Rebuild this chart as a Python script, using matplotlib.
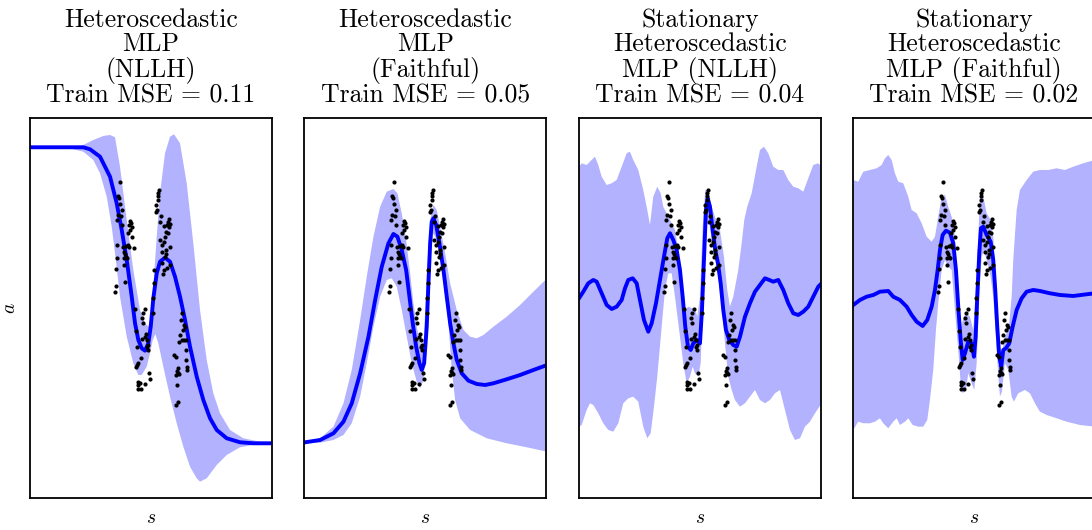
#!/usr/bin/env python3
"""
Predictive mean and uncertainty band of four MLP variants on the same
training data (s -> a), side by side.
"""

import matplotlib
matplotlib.use("Agg")
import matplotlib.pyplot as plt
import numpy as np


# Training data (shared by all panels)
TRAIN_S = [
    -0.31, -0.33, -0.32, -0.31, -0.29, -0.33, -0.30, -0.34, -0.29, -0.21, -0.20, -0.22,
    -0.19, -0.21, -0.19, -0.23, -0.25, -0.23, -0.22, -0.28, -0.27, -0.26, -0.25, -0.27,
    -0.24, -0.17, -0.34, -0.34, -0.27, -0.35, -0.26, -0.35, -0.36,
    -0.16, -0.06, -0.08, -0.09, -0.08, -0.15, -0.05, -0.06, -0.09, -0.04, -0.03, -0.04,
    -0.03, -0.14, -0.10, -0.14, -0.13, -0.15, -0.02, -0.01, -0.13, -0.11, -0.13, -0.13,
    -0.10, -0.06,
    0.08, 0.07, 0.07, 0.07, 0.05, 0.06, 0.05, 0.10, 0.09, 0.18, 0.17, 0.19, 0.16, 0.18,
    0.13, 0.15, 0.17, 0.14, 0.09, 0.13, 0.19, 0.11, 0.15, 0.11, 0.15, 0.14, 0.11, 0.19,
    0.13, 0.16, 0.12,
    0.02, 0.02, 0.03, 0.03,
    0.31, 0.30, 0.33, 0.34, 0.32, 0.29, 0.35, 0.31, 0.33, 0.28, 0.35, 0.23, 0.25, 0.35,
    0.27, 0.36, 0.36, 0.26, 0.27, 0.28, 0.25, 0.26, 0.27, 0.25,
]
TRAIN_A = [
    1.28, 1.14, 1.12, 1.06, 1.00, 0.95, 0.94, 0.90, 0.85, 0.89, 0.87, 0.85,
    0.83, 0.80, 0.73, 0.77, 0.64, 0.65, 0.63, 0.63, 0.58, 0.56, 0.53, 0.52,
    0.52, 0.62, 0.65, 0.52, 0.45, 0.41, 0.28, 0.24, 0.18,
    0.01, 0.01, -0.03, -0.08, -0.13, -0.21, -0.24, -0.27, -0.29, -0.30, -0.35, -0.37,
    -0.40, -0.37, -0.48, -0.55, -0.53, -0.57, -0.63, -0.69, -0.72, -0.73, -0.75, -0.79,
    -0.79, -0.74,
    1.20, 1.17, 1.14, 1.10, 1.05, 1.00, 0.98, 0.94, 0.88, 0.91, 0.88, 0.86, 0.85, 0.83,
    0.84, 0.78, 0.77, 0.73, 0.70, 0.68, 0.63, 0.65, 0.60, 0.58, 0.56, 0.53, 0.47, 0.45,
    0.40, 0.42, 0.36,
    0.12, -0.03, 0.27, 0.40,
    -0.03, -0.10, -0.15, -0.17, -0.20, -0.25, -0.30, -0.30, -0.30, -0.32, -0.40, -0.45,
    -0.47, -0.50, -0.58, -0.57, -0.60, -0.61, -0.63, -0.64, -0.65, -0.75, -0.92, -0.95,
]

# Heteroscedastic MLP (NLLH)
HET_NLLH_MEAN_S = [-1.21, -0.677, -0.61, -0.51, -0.41, -0.343, -0.293, -0.243, -0.193, -0.16,
                   -0.127, -0.093, -0.06, -0.027, -0.003, 0.023, 0.057, 0.09, 0.14, 0.19, 0.24,
                   0.29, 0.34, 0.39, 0.457, 0.523, 0.59, 0.657, 0.757, 0.89, 1.023, 1.21]
HET_NLLH_MEAN_A = [1.627, 1.627, 1.607, 1.533, 1.333, 1.067, 0.8, 0.5, 0.133, -0.133,
                   -0.3, -0.383, -0.407, -0.333, -0.167, 0.117, 0.367, 0.483, 0.523, 0.483,
                   0.333, 0.133, -0.1, -0.367, -0.667, -0.9, -1.083, -1.2, -1.283, -1.323,
                   -1.333, -1.333]
HET_NLLH_UP_S = [-1.21, -0.743, -0.677, -0.577, -0.477, -0.41, -0.36, -0.31, -0.243, -0.177,
                 -0.11, -0.06, -0.027, 0.007, 0.03, 0.057, 0.09, 0.14, 0.19, 0.23, 0.29, 0.357,
                 0.423, 0.49, 0.557, 0.623, 0.69, 0.79, 0.923, 1.09, 1.21]
HET_NLLH_UP_A = [1.627, 1.627, 1.65, 1.7, 1.74, 1.75, 1.727, 1.433, 0.9, 0.4, 0.0, -0.133,
                 -0.167, -0.033, 0.333, 0.733, 1.167, 1.567, 1.733, 1.757, 1.667, 1.267, 0.667,
                 0.0, -0.5, -0.833, -1.033, -1.2, -1.283, -1.317, -1.323]
HET_NLLH_LO_S = [-1.21, -0.843, -0.677, -0.577, -0.51, -0.443, -0.393, -0.36, -0.31, -0.243,
                 -0.177, -0.127, -0.093, -0.043, -0.01, 0.017, 0.043, 0.073, 0.123, 0.19, 0.257,
                 0.323, 0.39, 0.457, 0.49, 0.557, 0.657, 0.757, 0.89, 1.057, 1.21]
HET_NLLH_LO_A = [1.627, 1.623, 1.583, 1.5, 1.367, 1.133, 0.833, 0.567, 0.133, -0.267, -0.533,
                 -0.65, -0.65, -0.567, -0.433, -0.3, -0.24, -0.333, -0.567, -0.867, -1.133,
                 -1.367, -1.567, -1.683, -1.717, -1.683, -1.55, -1.45, -1.373, -1.343, -1.333]

# Heteroscedastic MLP (Faithful)
HET_FAITH_MEAN_S = [-1.203, -1.053, -0.92, -0.82, -0.737, -0.653, -0.57, -0.503, -0.437, -0.37,
                    -0.32, -0.28, -0.237, -0.193, -0.16, -0.127, -0.093, -0.06, -0.037, -0.013,
                    0.013, 0.03, 0.047, 0.063, 0.08, 0.107, 0.14, 0.18, 0.213, 0.247, 0.28,
                    0.313, 0.363, 0.43, 0.513, 0.597, 0.68, 0.813, 0.947, 1.08, 1.217]
HET_FAITH_MEAN_A = [-1.323, -1.3, -1.233, -1.117, -0.933, -0.633, -0.267, 0.1, 0.433, 0.667,
                    0.76, 0.733, 0.6, 0.4, 0.133, -0.133, -0.367, -0.533, -0.6, -0.533, -0.167,
                    0.267, 0.667, 0.883, 0.917, 0.85, 0.667, 0.4, 0.133, -0.133, -0.333, -0.5,
                    -0.633, -0.707, -0.74, -0.75, -0.733, -0.693, -0.65, -0.6, -0.55]
HET_FAITH_UP_S = [-1.203, -1.053, -0.92, -0.82, -0.737, -0.653, -0.587, -0.52, -0.453, -0.387,
                  -0.32, -0.28, -0.237, -0.193, -0.153, -0.12, -0.087, -0.053, -0.02, 0.013,
                  0.047, 0.08, 0.113, 0.147, 0.197, 0.247, 0.313, 0.38, 0.447, 0.513, 0.58,
                  0.68, 0.813, 0.947, 1.08, 1.217]
HET_FAITH_UP_A = [-1.317, -1.283, -1.167, -0.933, -0.6, -0.1, 0.333, 0.733, 1.033, 1.183, 1.21,
                  1.167, 0.967, 0.7, 0.367, 0.067, -0.167, -0.333, -0.367, 0.333, 0.9, 1.05,
                  1.0, 0.833, 0.567, 0.267, 0.0, -0.2, -0.267, -0.283, -0.25, -0.167, -0.067,
                  0.05, 0.183, 0.317]
HET_FAITH_LO_S = [-1.203, -1.053, -0.92, -0.82, -0.737, -0.653, -0.587, -0.52, -0.453, -0.387,
                  -0.337, -0.287, -0.237, -0.187, -0.137, -0.087, -0.053, -0.02, 0.013, 0.047,
                  0.08, 0.113, 0.147, 0.197, 0.23, 0.263, 0.297, 0.347, 0.447, 0.613, 0.813,
                  1.013, 1.217]
HET_FAITH_LO_A = [-1.333, -1.327, -1.3, -1.25, -1.133, -0.867, -0.533, -0.167, 0.133, 0.3,
                  0.317, 0.233, 0.0, -0.267, -0.533, -0.717, -0.783, -0.7, -0.333, 0.533,
                  0.767, 0.7, 0.533, 0.233, -0.133, -0.6, -0.9, -1.083, -1.2, -1.283, -1.333,
                  -1.373, -1.417]

# Stationary Heteroscedastic MLP (NLLH)
STAT_NLLH_MEAN_S = [-1.21, -1.167, -1.117, -1.067, -1.033, -0.983, -0.933, -0.883, -0.833,
                    -0.783, -0.75, -0.717, -0.673, -0.633, -0.6, -0.56, -0.517, -0.483, -0.44,
                    -0.4, -0.36, -0.327, -0.3, -0.267, -0.233, -0.2, -0.173, -0.147, -0.12,
                    -0.093, -0.067, -0.033, 0.0, 0.02, 0.04, 0.06, 0.077, 0.1, 0.127, 0.153,
                    0.18, 0.207, 0.233, 0.26, 0.293, 0.333, 0.367, 0.4, 0.45, 0.5, 0.55, 0.6,
                    0.65, 0.693, 0.733, 0.783, 0.833, 0.883, 0.933, 0.983, 1.033, 1.083, 1.133,
                    1.183, 1.217]
STAT_NLLH_MEAN_A = [0.117, 0.183, 0.267, 0.3, 0.283, 0.167, 0.05, 0.01, 0.033, 0.1, 0.217, 0.3,
                    0.317, 0.267, 0.1, -0.1, -0.217, -0.133, 0.067, 0.3, 0.533, 0.717, 0.767,
                    0.7, 0.6, 0.4, 0.133, -0.167, -0.367, -0.4, -0.333, -0.3, -0.333, 0.0, 0.5,
                    1.0, 1.117, 1.033, 0.8, 0.6, 0.467, 0.267, 0.0, -0.2, -0.3, -0.35, -0.367,
                    -0.267, -0.067, 0.067, 0.183, 0.25, 0.317, 0.3, 0.283, 0.3, 0.2, 0.067,
                    -0.033, -0.05, -0.017, 0.033, 0.133, 0.233, 0.267]
STAT_NLLH_UP_S = [-1.21, -1.183, -1.133, -1.083, -1.05, -1.017, -0.983, -0.933, -0.883, -0.833,
                  -0.783, -0.733, -0.7, -0.667, -0.617, -0.567, -0.527, -0.5, -0.467, -0.427,
                  -0.393, -0.367, -0.333, -0.3, -0.25, -0.217, -0.183, -0.15, -0.117, -0.083,
                  -0.05, -0.027, 0.0, 0.027, 0.053, 0.08, 0.117, 0.16, 0.2, 0.24, 0.273, 0.3,
                  0.333, 0.383, 0.417, 0.443, 0.473, 0.517, 0.567, 0.6, 0.64, 0.683, 0.733,
                  0.783, 0.833, 0.883, 0.933, 0.983, 1.033, 1.083, 1.133, 1.183, 1.217]
STAT_NLLH_UP_A = [1.433, 1.467, 1.45, 1.5, 1.533, 1.45, 1.333, 1.25, 1.267, 1.3, 1.433, 1.567,
                  1.583, 1.5, 1.4, 1.2, 1.0, 0.85, 1.133, 1.233, 1.167, 1.033, 0.967, 0.9, 0.8,
                  0.6, 0.2, 0.0, 0.033, 0.017, 0.017, -0.067, 0.133, 0.833, 1.2, 1.2, 1.033,
                  0.9, 0.8, 0.533, 0.2, 0.033, 0.133, 0.4, 0.667, 0.9, 1.033, 1.167, 1.433, 1.6,
                  1.633, 1.567, 1.433, 1.4, 1.4, 1.3, 1.233, 1.217, 1.183, 1.317, 1.45, 1.467,
                  1.433]
STAT_NLLH_LO_S = [-1.21, -1.183, -1.133, -1.1, -1.067, -1.017, -0.967, -0.917, -0.867, -0.817,
                  -0.767, -0.717, -0.667, -0.617, -0.567, -0.527, -0.493, -0.46, -0.427, -0.383,
                  -0.35, -0.317, -0.283, -0.25, -0.2, -0.167, -0.133, -0.1, -0.073, -0.05,
                  -0.017, 0.007, 0.04, 0.067, 0.093, 0.133, 0.173, 0.217, 0.25, 0.283, 0.317,
                  0.35, 0.4, 0.45, 0.5, 0.55, 0.6, 0.65, 0.7, 0.75, 0.8, 0.85, 0.9, 0.95, 1.0,
                  1.05, 1.1, 1.15, 1.217]
STAT_NLLH_LO_A = [-1.167, -1.15, -1.0, -0.933, -0.95, -1.033, -1.133, -1.2, -1.217, -1.133,
                  -0.933, -0.883, -0.867, -0.917, -1.167, -1.283, -1.233, -0.967, -0.667,
                  -0.167, 0.2, 0.367, 0.367, 0.133, -0.267, -0.533, -0.733, -0.667, -0.567,
                  -0.633, -0.667, -0.533, 0.4, 0.9, 0.867, 0.6, 0.4, 0.067, -0.333, -0.667,
                  -0.8, -0.9, -0.967, -0.933, -0.867, -0.8, -0.9, -0.933, -0.9, -0.833, -0.8,
                  -1.0, -1.2, -1.3, -1.283, -1.167, -1.117, -1.033, -0.933]

# Stationary Heteroscedastic MLP (Faithful)
STAT_FAITH_MEAN_S = [-1.207, -1.14, -1.073, -1.007, -0.94, -0.857, -0.807, -0.74, -0.673,
                     -0.623, -0.573, -0.513, -0.467, -0.423, -0.39, -0.363, -0.34, -0.313,
                     -0.28, -0.24, -0.207, -0.18, -0.157, -0.133, -0.113, -0.09, -0.057,
                     -0.023, 0.0, 0.017, 0.033, 0.053, 0.07, 0.093, 0.127, 0.167, 0.193, 0.213,
                     0.233, 0.253, 0.273, 0.293, 0.32, 0.353, 0.387, 0.427, 0.477, 0.527, 0.593,
                     0.66, 0.76, 0.86, 0.993, 1.127, 1.21]
STAT_FAITH_MEAN_A = [0.05, 0.1, 0.133, 0.15, 0.183, 0.19, 0.133, 0.1, 0.033, -0.05, -0.117,
                     -0.16, -0.1, 0.033, 0.2, 0.4, 0.6, 0.75, 0.793, 0.773, 0.667, 0.4, 0.033,
                     -0.3, -0.5, -0.433, -0.317, -0.333, -0.467, -0.267, 0.133, 0.567, 0.817,
                     0.833, 0.75, 0.683, 0.5, 0.2, -0.167, -0.467, -0.567, -0.4, -0.383, -0.333,
                     -0.167, 0.0, 0.117, 0.183, 0.2, 0.19, 0.167, 0.15, 0.14, 0.157, 0.167]
STAT_FAITH_UP_S = [-1.207, -1.157, -1.107, -1.04, -0.973, -0.923, -0.89, -0.857, -0.823, -0.79,
                   -0.757, -0.707, -0.657, -0.623, -0.573, -0.523, -0.473, -0.423, -0.39,
                   -0.357, -0.323, -0.29, -0.257, -0.223, -0.19, -0.157, -0.13, -0.1, -0.073,
                   -0.04, -0.007, 0.027, 0.06, 0.087, 0.127, 0.167, 0.193, 0.213, 0.233, 0.253,
                   0.277, 0.3, 0.327, 0.353, 0.377, 0.393, 0.427, 0.46, 0.527, 0.593, 0.66,
                   0.743, 0.827, 0.91, 0.993, 1.093, 1.21]
STAT_FAITH_UP_A = [1.3, 1.283, 1.383, 1.4, 1.417, 1.45, 1.517, 1.55, 1.5, 1.367, 1.283, 1.267,
                   1.133, 1.0, 0.967, 0.867, 0.733, 0.683, 0.733, 0.933, 1.133, 1.15, 1.033,
                   0.933, 0.733, 0.133, -0.167, -0.067, -0.033, -0.067, -0.2, 0.333, 1.133,
                   1.167, 0.967, 0.9, 0.733, 0.433, 0.067, -0.333, -0.467, -0.3, -0.233,
                   -0.133, 0.133, 0.5, 1.0, 1.2, 1.3, 1.383, 1.4, 1.4, 1.417, 1.4, 1.433,
                   1.467, 1.5]
STAT_FAITH_LO_S = [-1.207, -1.157, -1.107, -1.04, -0.99, -0.94, -0.907, -0.857, -0.807, -0.773,
                   -0.74, -0.69, -0.657, -0.613, -0.557, -0.507, -0.467, -0.44, -0.407, -0.38,
                   -0.357, -0.323, -0.29, -0.257, -0.223, -0.19, -0.157, -0.133, -0.113, -0.08,
                   -0.057, -0.023, 0.003, 0.027, 0.053, 0.077, 0.1, 0.127, 0.167, 0.193, 0.22,
                   0.24, 0.26, 0.28, 0.31, 0.343, 0.377, 0.4, 0.443, 0.51, 0.56, 0.61, 0.66,
                   0.727, 0.827, 0.927, 1.06, 1.21]
STAT_FAITH_LO_A = [-1.2, -1.117, -1.133, -1.133, -1.117, -1.083, -1.133, -1.183, -1.117,
                   -1.083, -1.15, -1.117, -1.083, -1.15, -1.167, -1.167, -1.1, -0.9, -0.6,
                   -0.2, 0.067, 0.4, 0.5, 0.433, 0.4, 0.0, -0.4, -0.733, -0.833, -0.8, -0.633,
                   -0.733, -0.8, -0.533, 0.133, 0.533, 0.6, 0.5, 0.333, 0.133, -0.267, -0.6,
                   -0.867, -0.817, -0.533, -0.6, -0.867, -0.917, -0.833, -0.8, -0.833, -0.933,
                   -1.017, -1.05, -1.083, -1.117, -1.15, -1.167]

TITLES = [
    "Heteroscedastic\nMLP\n(NLLH)\nTrain MSE = 0.11",
    "Heteroscedastic\nMLP\n(Faithful)\nTrain MSE = 0.05",
    "Stationary\nHeteroscedastic\nMLP (NLLH)\nTrain MSE = 0.04",
    "Stationary\nHeteroscedastic\nMLP (Faithful)\nTrain MSE = 0.02",
]

PANELS = [
    (HET_NLLH_MEAN_S, HET_NLLH_MEAN_A, HET_NLLH_UP_S, HET_NLLH_UP_A, HET_NLLH_LO_S, HET_NLLH_LO_A),
    (HET_FAITH_MEAN_S, HET_FAITH_MEAN_A, HET_FAITH_UP_S, HET_FAITH_UP_A, HET_FAITH_LO_S, HET_FAITH_LO_A),
    (STAT_NLLH_MEAN_S, STAT_NLLH_MEAN_A, STAT_NLLH_UP_S, STAT_NLLH_UP_A, STAT_NLLH_LO_S, STAT_NLLH_LO_A),
    (STAT_FAITH_MEAN_S, STAT_FAITH_MEAN_A, STAT_FAITH_UP_S, STAT_FAITH_UP_A, STAT_FAITH_LO_S, STAT_FAITH_LO_A),
]

plt.rcParams["mathtext.fontset"] = "cm"
plt.rcParams["font.family"] = ["cmr10", "DejaVu Serif"]
plt.rcParams["axes.unicode_minus"] = False

fig = plt.figure(figsize=(10.92, 5.30), dpi=100)

# the last panel runs slightly past the right edge, as in the original crop
lefts = [0.0275, 0.2788, 0.5302, 0.7811]
for i, (left, title, panel) in enumerate(zip(lefts, TITLES, PANELS)):
    mean_s, mean_a, up_s, up_a, lo_s, lo_a = [np.asarray(v) for v in panel]
    ax = fig.add_axes([left, 0.0604, 0.2216, 0.717])

    ax.fill(np.r_[up_s, lo_s[::-1]], np.r_[up_a, lo_a[::-1]],
            color="blue", alpha=0.3, lw=0, zorder=1)
    ax.plot(mean_s, mean_a, color="blue", lw=2.8, zorder=2, solid_joinstyle="round")
    ax.scatter(TRAIN_S, TRAIN_A, s=9, color="black", lw=0, zorder=3)

    ax.set_xlim(-1.21, 1.21)
    ax.set_ylim(-1.88, 1.92)
    ax.set_xticks([])
    ax.set_yticks([])
    for sp in ax.spines.values():
        sp.set_linewidth(1.3)

    ax.set_title(title, fontsize=18.5, linespacing=1.02, pad=11)
    ax.set_xlabel("$s$", fontsize=14, labelpad=8)
    if i == 0:
        ax.set_ylabel("$a$", fontsize=14, labelpad=8)

fig.savefig("out.png", dpi=100)
